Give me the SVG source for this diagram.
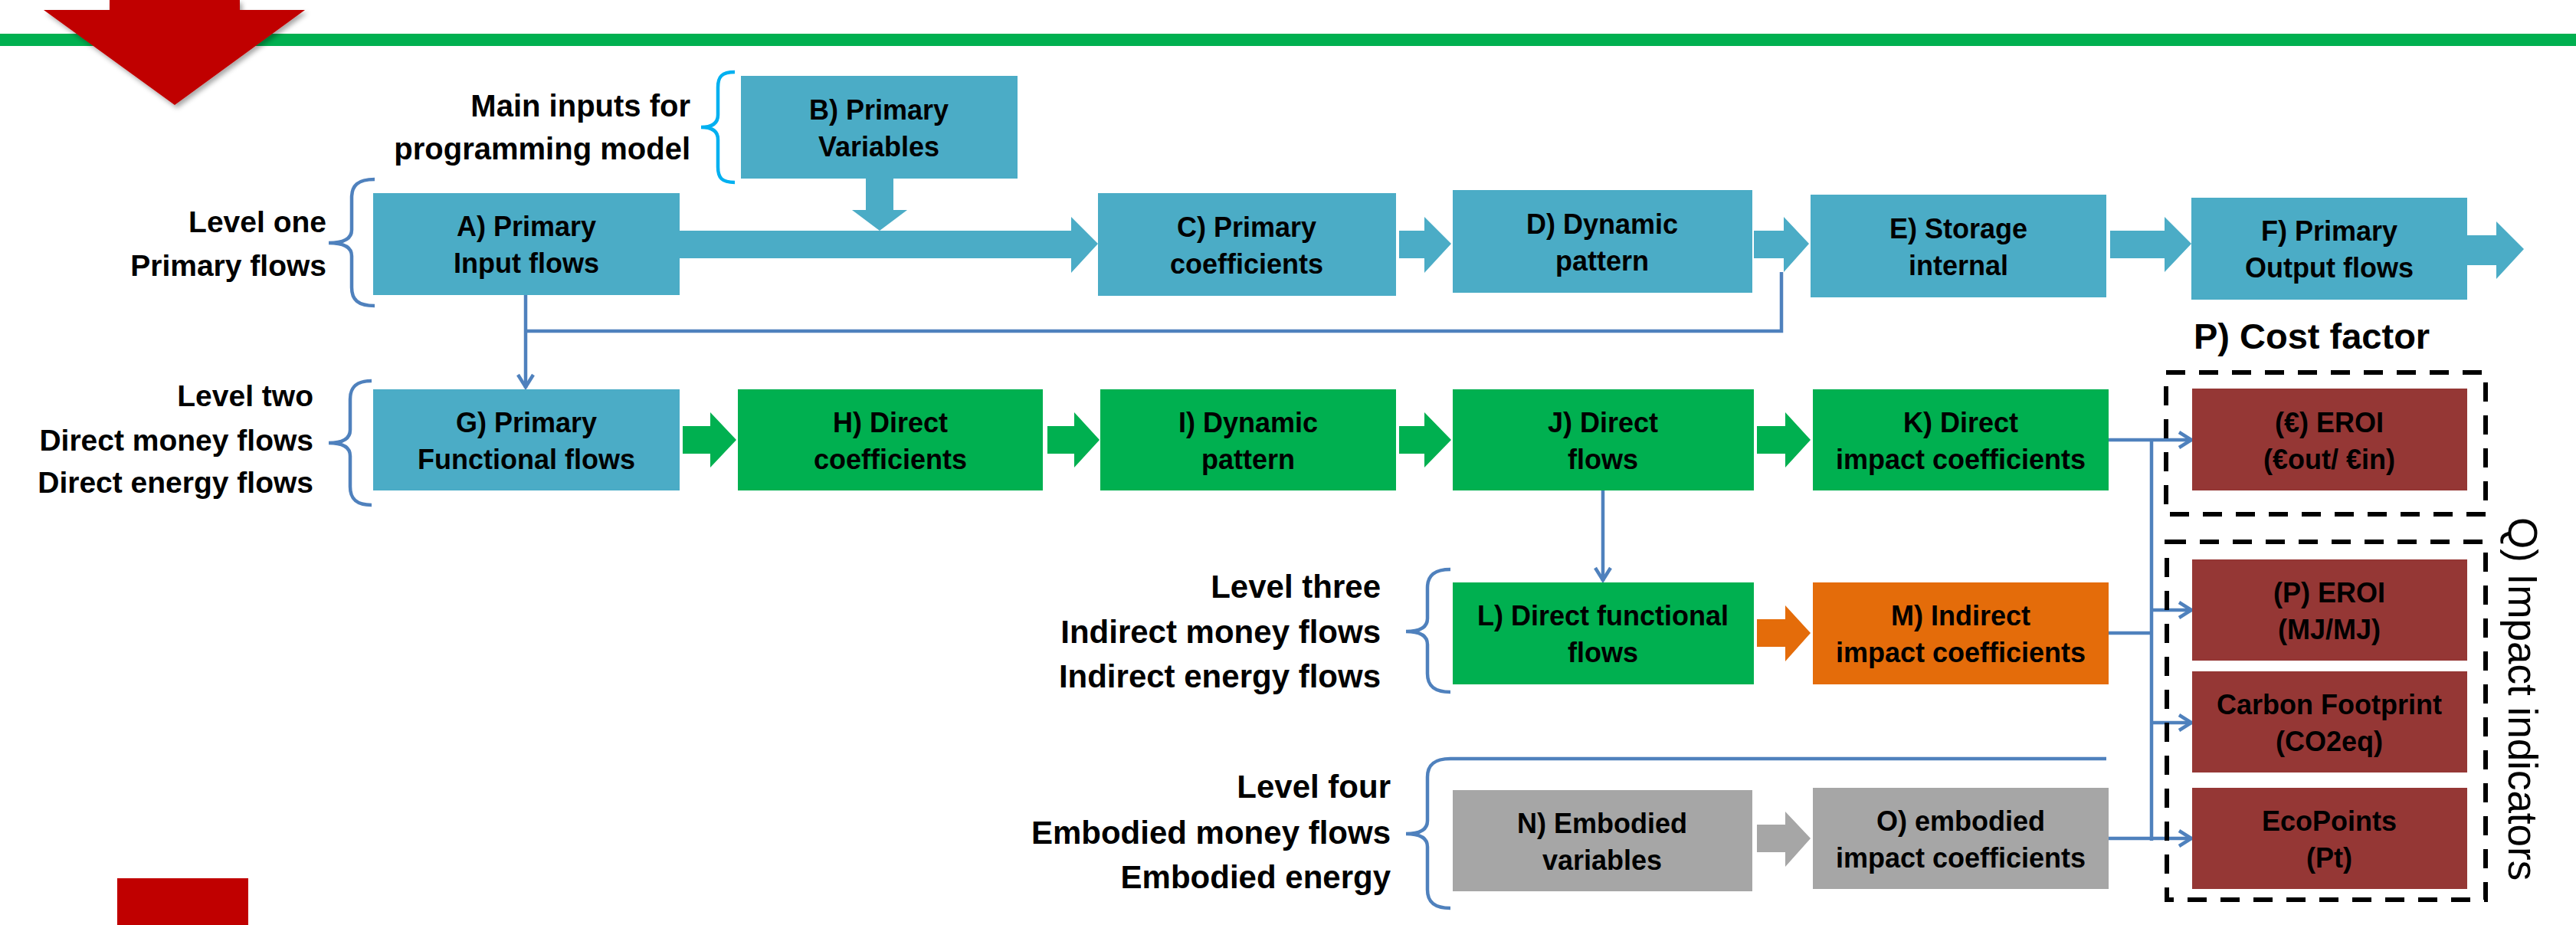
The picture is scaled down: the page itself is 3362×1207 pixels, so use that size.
<svg xmlns="http://www.w3.org/2000/svg" width="3362" height="1207" viewBox="0 0 3362 1207">
<defs>
<style>
.t{font-family:"Liberation Sans",Arial,sans-serif;font-weight:bold;font-size:36px;fill:#000;text-anchor:middle}
.s{font-family:"Liberation Sans",Arial,sans-serif;font-weight:bold;fill:#000;text-anchor:end}
.blue{fill:#4BACC6}
.green{fill:#00B050}
.orange{fill:#E46C0A}
.grey{fill:#A6A6A6}
.brown{fill:#953735}
.conn{fill:none;stroke:#4F81BD;stroke-width:4.5}
.brace{fill:none;stroke:#4F81BD;stroke-width:4.5}
.dash{fill:none;stroke:#000;stroke-width:6;stroke-dasharray:25 18}
</style>
<marker id="ah" viewBox="0 0 22 26" refX="20" refY="13" markerWidth="22" markerHeight="26" markerUnits="userSpaceOnUse" orient="auto">
<path d="M3,3 L19,13 L3,23" fill="none" stroke="#4F81BD" stroke-width="4.5"/>
</marker>
<filter id="sh" x="-20%" y="-20%" width="140%" height="140%">
<feDropShadow dx="3" dy="4" stdDeviation="3" flood-color="#000" flood-opacity="0.35"/>
</filter>
</defs>
<rect width="3362" height="1207" fill="#fff"/>

<!-- top band and red arrow -->
<rect x="0" y="44" width="3362" height="16" fill="#00B050"/>
<polygon points="143,0 313,0 313,13 398,13 228,137 57,13 143,13" fill="#C00000" filter="url(#sh)"/>
<rect x="153" y="1146" width="171" height="61" fill="#C00000"/>

<!-- side labels -->
<g id="label-main-inputs">
<path d="M959,94 C942,94 937,100 937,114 L937,150 C937,160 930,166 915,166 C930,166 937,172 937,182 L937,218 C937,232 942,238 959,238" fill="none" stroke="#00B0F0" stroke-width="4.5"/>
<text class="s" x="901" y="152" font-size="40">Main inputs for</text>
<text class="s" x="901" y="208" font-size="40">programming model</text>
</g>
<g id="label-level-one">
<path class="brace" d="M489,234 C467,234 459,242 459,258 L459,300 C459,311 450,317 429,317 C450,317 459,323 459,334 L459,375 C459,391 467,399 489,399"/>
<text class="s" x="426" y="303" font-size="39">Level one</text>
<text class="s" x="426" y="360" font-size="39">Primary flows</text>
</g>
<g id="label-level-two">
<path class="brace" d="M485,497 C465,497 457,505 457,521 L457,561 C457,572 449,578 429,578 C449,578 457,584 457,595 L457,635 C457,651 465,659 485,659"/>
<text class="s" x="409" y="530" font-size="39">Level two</text>
<text class="s" x="409" y="588" font-size="39">Direct money flows</text>
<text class="s" x="409" y="643" font-size="39">Direct energy flows</text>
</g>
<g id="label-level-three">
<path class="brace" d="M1893,743 C1872,743 1863,751 1863,767 L1863,807 C1863,818 1855,824 1835,824 C1855,824 1863,830 1863,841 L1863,879 C1863,895 1872,903 1893,903"/>
<text class="s" x="1802" y="780" font-size="42">Level three</text>
<text class="s" x="1802" y="839" font-size="42">Indirect money flows</text>
<text class="s" x="1802" y="897" font-size="42">Indirect energy flows</text>
</g>
<g id="label-level-four">
<path class="brace" d="M2749,990 L1893,990 C1872,990 1863,998 1863,1014 L1863,1071 C1863,1082 1855,1088 1835,1088 C1855,1088 1863,1094 1863,1105 L1863,1161 C1863,1177 1872,1185 1893,1185"/>
<text class="s" x="1815" y="1041" font-size="42">Level four</text>
<text class="s" x="1815" y="1101" font-size="42">Embodied money flows</text>
<text class="s" x="1815" y="1159" font-size="42">Embodied energy</text>
</g>

<!-- block arrows -->
<g id="block-arrows">
<polygon class="blue" points="887,301 1398,301 1398,283 1433,318 1398,356 1398,337 887,337"/>
<polygon class="blue" points="1130,233 1166,233 1166,274 1184,274 1148,301 1112,274 1130,274"/>
<polygon class="blue" points="1826,301 1859,301 1859,283 1894,318 1859,356 1859,337 1826,337"/>
<polygon class="blue" points="2289,301 2328,301 2328,283 2361,318 2328,355 2328,337 2289,337"/>
<polygon class="blue" points="2754,301 2825,301 2825,283 2860,318 2825,355 2825,337 2754,337"/>
<polygon class="blue" points="3220,307 3258,307 3258,289 3294,325 3258,364 3258,346 3220,346"/>
<polygon class="green" points="891,556 927,556 927,538 961,574 927,610 927,592 891,592"/>
<polygon class="green" points="1367,556 1402,556 1402,538 1435,574 1402,610 1402,592 1367,592"/>
<polygon class="green" points="1826,556 1859,556 1859,538 1894,574 1859,610 1859,592 1826,592"/>
<polygon class="green" points="2293,556 2330,556 2330,538 2363,574 2330,610 2330,592 2293,592"/>
<polygon class="orange" points="2293,808 2330,808 2330,790 2363,826 2330,863 2330,844 2293,844"/>
<polygon class="grey" points="2293,1076 2330,1076 2330,1059 2363,1094 2330,1131 2330,1112 2293,1112"/>
</g>

<!-- connectors -->
<g id="connectors">
<path class="conn" d="M2325,355 L2325,432 L686,432"/>
<path class="conn" d="M686,385 L686,506" marker-end="url(#ah)"/>
<path class="conn" d="M2092,640 L2092,758" marker-end="url(#ah)"/>
<path class="conn" d="M2752,574 L2861,574" marker-end="url(#ah)"/>
<path class="conn" d="M2808,572 L2808,1097"/>
<path class="conn" d="M2752,826 L2808,826"/>
<path class="conn" d="M2752,1094 L2861,1094" marker-end="url(#ah)"/>
<path class="conn" d="M2808,796 L2861,796" marker-end="url(#ah)"/>
<path class="conn" d="M2808,943 L2861,943" marker-end="url(#ah)"/>
</g>

<!-- nodes -->
<g id="node-A"><rect class="blue" x="487" y="252" width="400" height="133"/><text class="t" x="687" y="308">A) Primary</text><text class="t" x="687" y="356">Input flows</text></g>
<g id="node-B"><rect class="blue" x="967" y="99" width="361" height="134"/><text class="t" x="1147" y="156">B) Primary</text><text class="t" x="1147" y="204">Variables</text></g>
<g id="node-C"><rect class="blue" x="1433" y="252" width="389" height="134"/><text class="t" x="1627" y="309">C) Primary</text><text class="t" x="1627" y="357">coefficients</text></g>
<g id="node-D"><rect class="blue" x="1896" y="248" width="391" height="134"/><text class="t" x="2091" y="305">D) Dynamic</text><text class="t" x="2091" y="353">pattern</text></g>
<g id="node-E"><rect class="blue" x="2363" y="254" width="386" height="134"/><text class="t" x="2556" y="311">E) Storage</text><text class="t" x="2556" y="359">internal</text></g>
<g id="node-F"><rect class="blue" x="2860" y="258" width="360" height="133"/><text class="t" x="3040" y="314">F) Primary</text><text class="t" x="3040" y="362">Output flows</text></g>
<g id="node-G"><rect class="blue" x="487" y="508" width="400" height="132"/><text class="t" x="687" y="564">G) Primary</text><text class="t" x="687" y="612">Functional flows</text></g>
<g id="node-H"><rect class="green" x="963" y="508" width="398" height="132"/><text class="t" x="1162" y="564">H) Direct</text><text class="t" x="1162" y="612">coefficients</text></g>
<g id="node-I"><rect class="green" x="1436" y="508" width="386" height="132"/><text class="t" x="1629" y="564">I) Dynamic</text><text class="t" x="1629" y="612">pattern</text></g>
<g id="node-J"><rect class="green" x="1896" y="508" width="393" height="132"/><text class="t" x="2092" y="564">J) Direct</text><text class="t" x="2092" y="612">flows</text></g>
<g id="node-K"><rect class="green" x="2366" y="508" width="386" height="132"/><text class="t" x="2559" y="564">K) Direct</text><text class="t" x="2559" y="612">impact coefficients</text></g>
<g id="node-L"><rect class="green" x="1896" y="760" width="393" height="133"/><text class="t" x="2092" y="816">L) Direct functional</text><text class="t" x="2092" y="864">flows</text></g>
<g id="node-M"><rect class="orange" x="2366" y="760" width="386" height="133"/><text class="t" x="2559" y="816">M) Indirect</text><text class="t" x="2559" y="864">impact coefficients</text></g>
<g id="node-N"><rect class="grey" x="1896" y="1031" width="391" height="132"/><text class="t" x="2091" y="1087">N) Embodied</text><text class="t" x="2091" y="1135">variables</text></g>
<g id="node-O"><rect class="grey" x="2366" y="1028" width="386" height="132"/><text class="t" x="2559" y="1084">O) embodied</text><text class="t" x="2559" y="1132">impact coefficients</text></g>

<g id="group-P">
<rect class="dash" x="2827" y="486" width="417" height="185"/>
<text class="s" x="2863" y="455" font-size="47" text-anchor="start" style="text-anchor:start">P) Cost factor</text>
</g>
<g id="node-EROI-euro"><rect class="brown" x="2861" y="507" width="359" height="133"/><text class="t" x="3040" y="564">(€) EROI</text><text class="t" x="3040" y="612">(€out/ €in)</text></g>

<g id="group-Q">
<rect class="dash" x="2828" y="707" width="416" height="467"/>
<text x="3274" y="675" transform="rotate(90 3274 675)" font-family="Liberation Sans, Arial, sans-serif" font-size="53" fill="#000">Q) Impact indicators</text>
</g>
<g id="node-EROI-P"><rect class="brown" x="2861" y="730" width="359" height="132"/><text class="t" x="3040" y="786">(P) EROI</text><text class="t" x="3040" y="834">(MJ/MJ)</text></g>
<g id="node-Carbon"><rect class="brown" x="2861" y="876" width="359" height="132"/><text class="t" x="3040" y="932">Carbon Footprint</text><text class="t" x="3040" y="980">(CO2eq)</text></g>
<g id="node-EcoPoints"><rect class="brown" x="2861" y="1028" width="359" height="132"/><text class="t" x="3040" y="1084">EcoPoints</text><text class="t" x="3040" y="1132">(Pt)</text></g>
</svg>
